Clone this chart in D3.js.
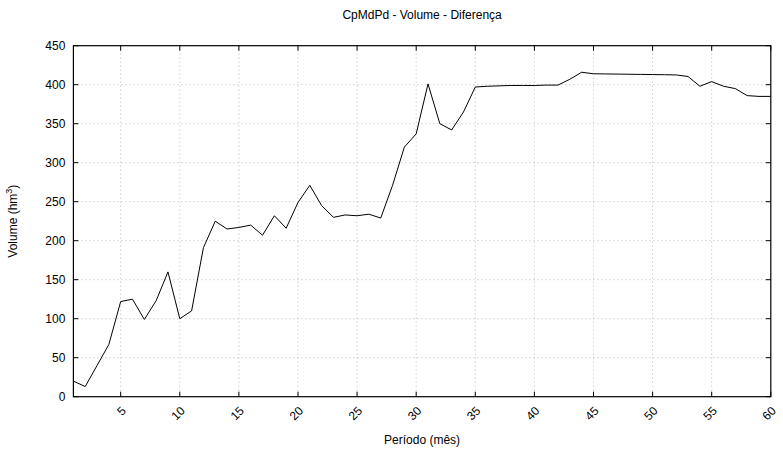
<!DOCTYPE html>
<html>
<head>
<meta charset="utf-8">
<script src="https://cdn.jsdelivr.net/npm/d3@7"></script>
<style>
  body { margin: 0; background: #fff; }
  text { font-family: "Liberation Sans", Arial, sans-serif; fill: #000; }
</style>
</head>
<body>
<svg width="783" height="466"></svg>
<script>
// monthly volume difference (hm3), months 1..60
const months = d3.range(1, 61)
const volume = [
  20, 13, 40, 67, 122, 125, 99, 123, 160, 100,
  110, 191, 225, 215, 217, 220, 207, 232, 216, 249,
  271, 245, 230, 233, 232, 234, 229, 271, 320, 337,
  401, 350, 342, 365, 397, 398, 398.5, 399, 399, 399,
  399.5, 399.5, 407, 416, 414, 413.8, 413.6, 413.4, 413.2, 413,
  412.8, 412.5, 410.5, 398, 404, 398, 395, 386, 385, 385
]
const xTicks = [5, 10, 15, 20, 25, 30, 35, 40, 45, 50, 55, 60]
const yTicks = [0, 50, 100, 150, 200, 250, 300, 350, 400, 450]

const svg = d3.select('svg')
const mLeft = 73.4, mRight = 770.8, mTop = 45.7, mBottom = 396.7

const x = d3.scaleLinear()
    .domain([1, 60])
    .range([mLeft, mRight])
const y = d3.scaleLinear()
    .domain([0, 450])
    .range([mBottom, mTop])

// grid
svg.append('g')
    .selectAll('line')
    .data(xTicks.filter(d => d < 60))
    .join('line')
    .attr('x1', d => x(d)).attr('x2', d => x(d))
    .attr('y1', mTop).attr('y2', mBottom)
    .attr('stroke', '#aaa')
    .attr('stroke-width', 0.8)
    .attr('stroke-dasharray', '1,3')
svg.append('g')
    .selectAll('line')
    .data(yTicks.filter(d => d > 0 && d < 450))
    .join('line')
    .attr('x1', mLeft).attr('x2', mRight)
    .attr('y1', d => y(d)).attr('y2', d => y(d))
    .attr('stroke', '#aaa')
    .attr('stroke-width', 0.8)
    .attr('stroke-dasharray', '1,3')

// inward ticks on all sides
const tl = 5
const tickG = svg.append('g').attr('stroke', '#000').attr('stroke-width', 1)
xTicks.forEach(d => {
    tickG.append('line').attr('x1', x(d)).attr('x2', x(d)).attr('y1', mBottom).attr('y2', mBottom - tl)
    tickG.append('line').attr('x1', x(d)).attr('x2', x(d)).attr('y1', mTop).attr('y2', mTop + tl)
})
yTicks.forEach(d => {
    tickG.append('line').attr('x1', mLeft).attr('x2', mLeft + tl).attr('y1', y(d)).attr('y2', y(d))
    tickG.append('line').attr('x1', mRight).attr('x2', mRight - tl).attr('y1', y(d)).attr('y2', y(d))
})

// frame
svg.append('rect')
    .attr('x', mLeft).attr('y', mTop)
    .attr('width', mRight - mLeft).attr('height', mBottom - mTop)
    .attr('fill', 'none')
    .attr('stroke', '#000')
    .attr('stroke-width', 1.2)

// tick labels
svg.append('g')
    .selectAll('text')
    .data(yTicks)
    .join('text')
    .attr('x', mLeft - 8)
    .attr('y', d => y(d))
    .attr('dy', '0.35em')
    .attr('text-anchor', 'end')
    .attr('font-size', 12)
    .text(d => d)

svg.append('g')
    .selectAll('text')
    .data(xTicks)
    .join('text')
    .attr('transform', d => `translate(${x(d)},${mBottom + 9}) rotate(-45)`)
    .attr('dy', '0.7em')
    .attr('text-anchor', 'end')
    .attr('font-size', 12)
    .text(d => d)

// data line
const line = d3.line()
    .x((d, i) => x(months[i]))
    .y(d => y(d))
svg.append('path')
    .datum(volume)
    .attr('d', line)
    .attr('fill', 'none')
    .attr('stroke', '#000')
    .attr('stroke-width', 1)

// titles
const cx = (mLeft + mRight) / 2
svg.append('text')
    .attr('x', cx).attr('y', 19)
    .attr('text-anchor', 'middle')
    .attr('font-size', 12)
    .text('CpMdPd - Volume - Diferença')

svg.append('text')
    .attr('x', cx).attr('y', 444)
    .attr('text-anchor', 'middle')
    .attr('font-size', 12)
    .text('Período (mês)')

const yl = svg.append('text')
    .attr('transform', `translate(17,${(mTop + mBottom) / 2}) rotate(-90)`)
    .attr('text-anchor', 'middle')
    .attr('font-size', 12)
yl.append('tspan').text('Volume (hm')
yl.append('tspan').attr('dy', -5).attr('font-size', 9).text('3')
yl.append('tspan').attr('dy', 5).text(')')
</script>
</body>
</html>
